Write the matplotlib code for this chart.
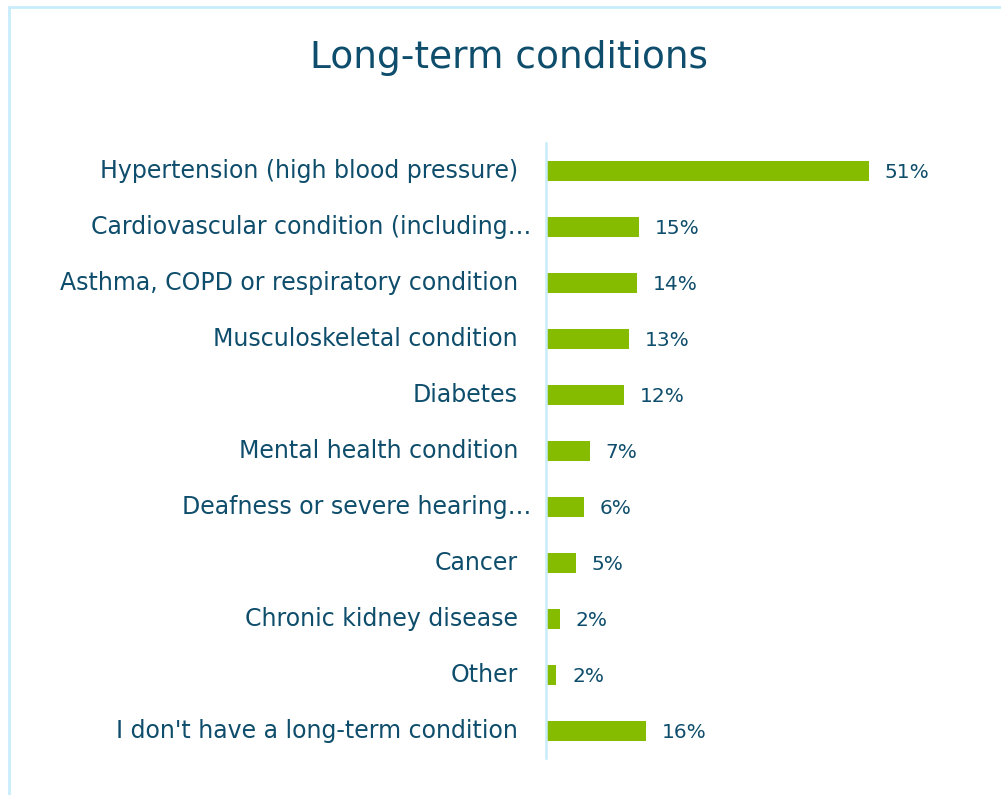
import matplotlib
matplotlib.use("Agg")
import matplotlib.pyplot as plt
from matplotlib.patches import Rectangle
from matplotlib.transforms import offset_copy

categories = [
    "Hypertension (high blood pressure)",
    "Cardiovascular condition (including…",
    "Asthma, COPD or respiratory condition",
    "Musculoskeletal condition",
    "Diabetes",
    "Mental health condition",
    "Deafness or severe hearing…",
    "Cancer",
    "Chronic kidney disease",
    "Other",
    "I don't have a long-term condition",
]
values = [51.0, 14.7, 14.3, 13.1, 12.3, 6.9, 6.0, 4.7, 2.2, 1.6, 15.8]
value_labels = ["51%", "15%", "14%", "13%", "12%", "7%", "6%", "5%", "2%", "2%", "16%"]

text_col = "#0e4d6b"
bar_col = "#86bc00"
line_col = "#c8ecfb"

plt.rcParams['font.family'] = ['DejaVu Sans']

W, H = 1001, 795
fig = plt.figure(figsize=(W / 100, H / 100), dpi=100)

# light blue card border (open to right / bottom)
fig.patches.append(Rectangle((8.5 / W, -0.05), 1.1, 1 - 7 / H + 0.05,
                             transform=fig.transFigure, fill=False,
                             edgecolor=line_col, linewidth=2))

fig.text(509 / W, 1 - 58 / H, "Long-term conditions", ha="center", va="center",
         fontsize=27, color=text_col)

left, right = 546 / W, 960 / W
bottom, top = 1 - 758 / H, 1 - 143 / H
ax = fig.add_axes([left, bottom, right - left, top - bottom])

y = list(range(len(categories)))
ax.barh(y, values, height=0.36, color=bar_col)
ax.set_xlim(0, 414 / 6.33)
ax.set_ylim(len(categories) - 0.52, -0.5)

for s in ["top", "right", "bottom"]:
    ax.spines[s].set_visible(False)
ax.spines["left"].set_color(line_col)
ax.spines["left"].set_linewidth(1.8)
ax.set_xticks([])
ax.set_yticks([])

lab_tr = offset_copy(ax.transData, fig=fig, x=-28 * 0.72, units="points")
lab_tr_trunc = offset_copy(ax.transData, fig=fig, x=-15 * 0.72, units="points")
for i, (c, v, vl) in enumerate(zip(categories, values, value_labels)):
    tr = lab_tr_trunc if c.endswith("…") else lab_tr
    ax.text(0, i, c, transform=tr, ha="right", va="center",
            fontsize=17, color=text_col)
    ax.annotate(vl, (v, i), xytext=(16 * 0.72, -1), textcoords="offset points",
                ha="left", va="center", fontsize=14.5, color=text_col)

fig.savefig("out.png", dpi=100)
